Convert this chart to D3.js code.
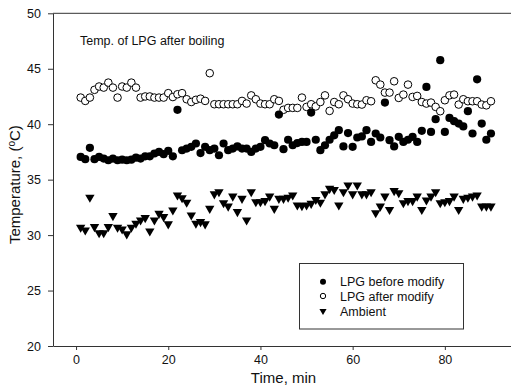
<!DOCTYPE html>
<html>
<head>
<meta charset="utf-8">
<script src="https://cdn.jsdelivr.net/npm/d3@7"></script>
<style>
  body { margin: 0; background: #fff; }
  svg { display: block; font-family: "Liberation Sans", Arial, sans-serif; }
</style>
</head>
<body>
<svg id="chart" width="511" height="388"></svg>
<script>
// time in minutes
const minutes = [
  1, 2, 3, 4, 5, 6, 7, 8, 9, 10, 11, 12, 13, 14, 15, 16, 17, 18, 19, 20,
  21, 22, 23, 24, 25, 26, 27, 28, 29, 30, 31, 32, 33, 34, 35, 36, 37, 38, 39, 40,
  41, 42, 43, 44, 45, 46, 47, 48, 49, 50, 51, 52, 53, 54, 55, 56, 57, 58, 59, 60,
  61, 62, 63, 64, 65, 66, 67, 68, 69, 70, 71, 72, 73, 74, 75, 76, 77, 78, 79, 80,
  81, 82, 83, 84, 85, 86, 87, 88, 89, 90
];

const beforeModify = [
  37.05, 36.85, 37.87, 36.85, 37.05, 36.9, 36.75, 36.9, 36.75, 36.8,
  36.75, 36.8, 36.98, 36.9, 37.1, 37.1, 37.36, 37.5, 37.3, 37.6,
  37.1, 41.3, 37.65, 37.8, 37.96, 38.26, 37.4, 37.96, 37.66, 37.8,
  37.2, 38.26, 37.66, 37.8, 38.0, 37.8, 37.8, 37.5, 37.8, 37.96,
  38.56, 38.26, 38.1, 40.87, 37.75, 38.6, 38.1, 38.3, 38.4, 38.4,
  41.05, 38.6, 37.66, 38.1, 38.6, 39.0, 39.46, 38.0, 39.2, 37.96,
  38.8, 38.9, 39.46, 38.4, 39.16, 38.8, 41.95, 38.56, 38.0, 38.86,
  38.4, 38.6, 38.86, 38.4, 39.4, 43.36, 39.3, 40.45, 45.77, 39.3,
  40.57, 40.27, 40.06, 39.8, 41.17, 39.16, 44.05, 40.06, 38.6, 39.16
];

const afterModify = [
  42.4, 42.1, 42.4, 43.1, 43.4, 43.3, 43.75, 43.3, 42.4, 43.4,
  43.3, 43.75, 43.3, 42.4, 42.5, 42.5, 42.4, 42.4, 42.4, 42.8,
  42.45, 42.7, 42.8, 42.25, 42.0, 42.2, 42.3, 42.1, 44.6, 41.8,
  41.8, 41.8, 41.8, 41.8, 41.8, 42.1, 41.86, 42.6, 42.25, 41.86,
  41.8, 41.8, 42.25, 42.1, 41.3, 41.47, 41.47, 41.47, 42.4, 41.56,
  41.8, 41.6, 42.0, 42.6, 41.2, 42.0, 41.8, 42.6, 42.25, 41.86,
  41.8, 41.77, 42.16, 42.07, 43.96, 43.57, 42.85, 42.85, 43.87, 42.37,
  42.67, 43.57, 42.46, 42.55, 42.0, 41.86, 41.95, 41.56, 41.17, 42.16,
  42.6, 42.67, 41.77, 42.25, 42.07, 42.07, 42.07, 41.77, 41.7, 42.07
];

const ambient = [
  30.7, 30.45, 33.4, 30.75, 30.2, 30.2, 30.75, 31.74, 30.7, 30.54,
  30.1, 30.7, 31.05, 31.35, 31.56, 30.36, 31.35, 31.95, 31.65, 31.0,
  32.25, 33.6, 33.36, 32.95, 31.8, 31.05, 31.2, 31.0, 32.4, 33.7,
  33.9, 32.9, 32.6, 33.5, 32.1, 33.3, 31.35, 33.9, 33.0, 33.0,
  33.1, 33.5, 32.4, 33.3, 33.3, 33.4, 33.6, 32.7, 32.64, 32.7,
  32.85, 33.2, 32.95, 33.7, 34.2, 34.1, 32.7, 33.9, 34.5, 33.7,
  34.5, 33.7, 33.7, 33.9, 32.0, 32.6, 33.5, 32.3, 34.0, 33.8,
  32.9, 33.1, 33.1, 33.5, 32.3, 33.15, 33.5, 33.9, 32.9, 33.0,
  33.1, 33.5, 32.3, 33.3, 33.4, 33.5, 33.6, 32.6, 32.6, 32.6
];

const xTicks = [0, 20, 40, 60, 80];
const yTicks = [20, 25, 30, 35, 40, 45, 50];
const legendLabels = ["LPG before modify", "LPG after modify", "Ambient"];

const AXIS = "#333";
const svg = d3.select("#chart");

const x = d3.scaleLinear().domain([-5, 95]).range([53, 514]);
const y = d3.scaleLinear().domain([20, 50]).range([346, 13.3]);

// frame top (right side falls outside the picture)
svg.append("line").attr("x1", x(-5)).attr("x2", x(95)).attr("y1", y(50)).attr("y2", y(50))
  .attr("stroke", AXIS).attr("stroke-width", 1);

const gx = svg.append("g").attr("transform", `translate(0,${y(20)})`)
  .call(d3.axisBottom(x).tickValues(xTicks).tickSize(4).tickPadding(5).tickSizeOuter(0));
gx.select(".domain").attr("stroke", AXIS);
gx.selectAll(".tick line").attr("stroke", AXIS);
gx.selectAll(".tick text").attr("font-size", "12.5px").attr("fill", "#111")
  .attr("font-family", "Liberation Sans, Arial, sans-serif");

const gy = svg.append("g").attr("transform", `translate(${x(-5)},0)`)
  .call(d3.axisLeft(y).tickValues(yTicks).tickSize(5).tickPadding(7).tickSizeOuter(0));
gy.select(".domain").attr("stroke", AXIS);
gy.selectAll(".tick line").attr("stroke", AXIS);
gy.selectAll(".tick text").attr("font-size", "12.5px").attr("fill", "#111")
  .attr("font-family", "Liberation Sans, Arial, sans-serif");

// axis titles
svg.append("text").attr("x", (x(-5) + x(95)) / 2).attr("y", 383)
  .attr("text-anchor", "middle").attr("font-size", "15px").attr("fill", "#111")
  .text("Time, min");

const yt = svg.append("text").attr("transform", `translate(20,${(y(20) + y(50)) / 2 + 5}) rotate(-90)`)
  .attr("text-anchor", "middle").attr("font-size", "15px").attr("fill", "#111");
yt.append("tspan").text("Temperature, (");
yt.append("tspan").attr("font-size", "10px").attr("dy", "-5").text("o");
yt.append("tspan").attr("dy", "5").text("C)");

svg.append("text").attr("x", 80).attr("y", 45).attr("font-size", "12.5px").attr("fill", "#111")
  .text("Temp. of LPG after boiling");

// series
const tri = d3.symbol(d3.symbolTriangle, 38);

svg.append("g").selectAll("circle").data(minutes).join("circle")
  .attr("cx", (d) => x(d)).attr("cy", (d, i) => y(afterModify[i])).attr("r", 3.8)
  .attr("fill", "#fff").attr("stroke", "#000").attr("stroke-width", 1);

svg.append("g").selectAll("circle").data(minutes).join("circle")
  .attr("cx", (d) => x(d)).attr("cy", (d, i) => y(beforeModify[i])).attr("r", 4.1)
  .attr("fill", "#000");

svg.append("g").selectAll("path").data(minutes).join("path")
  .attr("d", tri)
  .attr("transform", (d, i) => `translate(${x(d)},${y(ambient[i])}) rotate(180)`)
  .attr("fill", "#000");

// legend
const leg = svg.append("g");
leg.append("rect").attr("x", 299.5).attr("y", 263.5).attr("width", 164).attr("height", 65.5)
  .attr("fill", "#fff").attr("stroke", AXIS).attr("stroke-width", 1);
const rows = [281.7, 296, 311];
leg.append("circle").attr("cx", 323).attr("cy", rows[0]).attr("r", 3).attr("fill", "#000");
leg.append("circle").attr("cx", 323).attr("cy", rows[1]).attr("r", 2.7)
  .attr("fill", "#fff").attr("stroke", "#000").attr("stroke-width", 1);
leg.append("path").attr("d", d3.symbol(d3.symbolTriangle, 22))
  .attr("transform", `translate(323,${rows[2]}) rotate(180)`).attr("fill", "#000");
legendLabels.forEach((label, i) => {
  leg.append("text").attr("x", 340).attr("y", rows[i] + 4.5)
    .attr("font-size", "12.5px").attr("fill", "#111").text(label);
});
</script>
</body>
</html>
